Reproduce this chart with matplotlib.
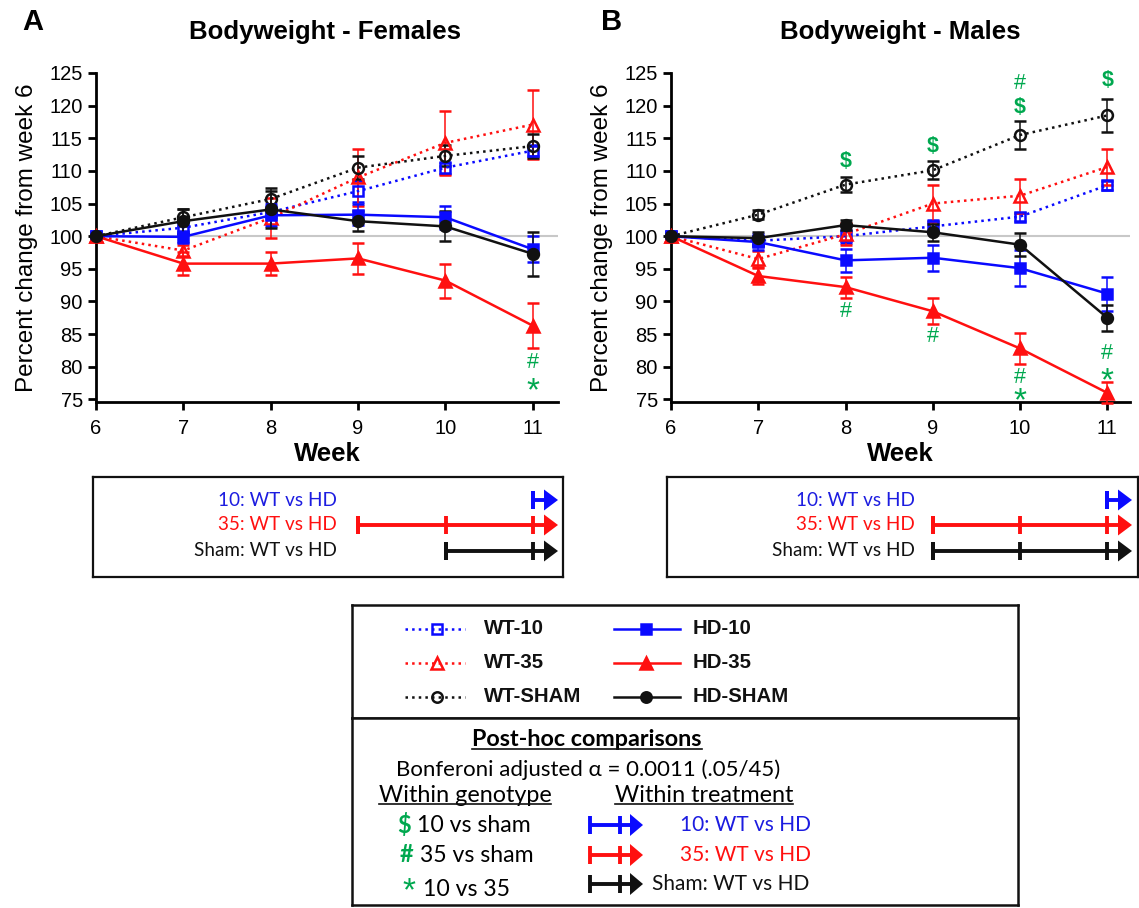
import matplotlib
matplotlib.use('Agg')
import matplotlib.pyplot as plt
from matplotlib.lines import Line2D
from matplotlib.patches import Polygon
from matplotlib.transforms import offset_copy

W, H = 1139, 908
fig = plt.figure(figsize=(W / 100, H / 100), dpi=100)

AX_FONT = 'Liberation Sans'
BOX_FONT = ['Lato', 'DejaVu Sans']

# ---------------- data ----------------
weeks = [6, 7, 8, 9, 10, 11]
groups = ['WT-10', 'HD-10', 'WT-35', 'HD-35', 'WT-SHAM', 'HD-SHAM']

# Females (mean, SEM)
fem_wt10 = [100, 101.3, 103.7, 106.9, 110.5, 113.1]
fem_wt10_err = [0, 0.9, 1.0, 1.6, 0.9, 0.8]
fem_hd10 = [100, 99.9, 103.2, 103.3, 102.9, 98.0]
fem_hd10_err = [0, 0.9, 1.7, 1.6, 1.8, 2.0]
fem_wt35 = [100, 97.8, 102.8, 109.0, 114.3, 117.1]
fem_wt35_err = [0, 0.8, 3.1, 4.3, 4.9, 5.3]
fem_hd35 = [100, 95.8, 95.8, 96.6, 93.2, 86.3]
fem_hd35_err = [0, 1.8, 1.8, 2.4, 2.6, 3.4]
fem_wtsham = [100, 102.9, 105.7, 110.5, 112.3, 113.8]
fem_wtsham_err = [0, 1.3, 1.7, 1.8, 1.6, 1.8]
fem_hdsham = [100, 102.3, 104.1, 102.3, 101.5, 97.3]
fem_hdsham_err = [0, 1.9, 2.8, 1.5, 2.3, 3.4]

# Males (mean, SEM)
male_wt10 = [100, 99.3, 100.0, 101.5, 103.0, 107.8]
male_wt10_err = [0, 0.8, 1.0, 1.0, 0.6, 0.7]
male_hd10 = [100, 99.1, 96.3, 96.7, 95.1, 91.2]
male_hd10_err = [0, 1.2, 1.8, 2.0, 2.8, 2.6]
male_wt35 = [100, 96.5, 100.3, 105.0, 106.2, 110.6]
male_wt35_err = [0, 1.2, 1.7, 2.8, 2.6, 2.7]
male_hd35 = [100, 93.9, 92.2, 88.5, 82.8, 76.0]
male_hd35_err = [0, 1.3, 1.6, 2.0, 2.4, 1.6]
male_wtsham = [100, 103.3, 107.9, 110.1, 115.5, 118.5]
male_wtsham_err = [0, 0.7, 1.2, 1.4, 2.2, 2.5]
male_hdsham = [100, 99.7, 101.7, 100.6, 98.7, 87.5]
male_hdsham_err = [0, 1.0, 0.8, 1.3, 1.8, 2.0]

# significance symbols (week, y position, symbol)
fem_sig_week = [11, 11]
fem_sig_y = [80.7, 77.8]
fem_sig_sym = ['#', '*']
male_sig_week = [8, 8, 9, 9, 10, 10, 10, 10, 11, 11, 11]
male_sig_y = [111.5, 88.5, 113.7, 84.6, 123.4, 119.7, 78.4, 76.2, 123.8, 82.1, 79.3]
male_sig_sym = ['$', '#', '$', '#', '#', '$', '#', '*', '$', '#', '*']

# within-treatment WT vs HD significance (weeks)
treat_labels = ['10: WT vs HD', '35: WT vs HD', 'Sham: WT vs HD']
fem_treat_weeks = [[11], [9, 10, 11], [10, 11]]
male_treat_weeks = [[11], [9, 10, 11], [9, 10, 11]]

yticks = [75, 80, 85, 90, 95, 100, 105, 110, 115, 120, 125]

BLUE = '#0a0aff'
RED = '#ff1010'
BLACK = '#111111'
GREEN = '#00a84f'
TBLUE = '#1c1ce0'

styles = {
    'WT-10': dict(color=BLUE, marker='s', mfc='none', ls=':'),
    'HD-10': dict(color=BLUE, marker='s', mfc=BLUE, ls='-'),
    'WT-35': dict(color=RED, marker='^', mfc='none', ls=':'),
    'HD-35': dict(color=RED, marker='^', mfc=RED, ls='-'),
    'WT-SHAM': dict(color=BLACK, marker='o', mfc='none', ls=':'),
    'HD-SHAM': dict(color=BLACK, marker='o', mfc=BLACK, ls='-'),
}
treat_colors = [TBLUE, RED, BLACK]
arrow_colors = [BLUE, RED, BLACK]


def px_axes(x0, y0, x1, y1):
    return fig.add_axes([x0 / W, 1 - y1 / H, (x1 - x0) / W, (y1 - y0) / H])


def star(ax, x, y, fs, transform=None, **kw):
    # place the asterisk so that its ink centre sits at y
    base = transform if transform is not None else ax.transData
    tr = offset_copy(base, fig=fig, y=-0.56 * fs, units='points')
    ax.text(x, y, '*', fontsize=fs, transform=tr, va='baseline', ha='center',
            family=AX_FONT, **kw)


def draw_panel(ax, series, errs, title, letter, sig_w, sig_y, sig_s, tx, lx):
    ax.axhline(100, color='#c8c8c8', lw=1.5, zorder=0)
    for g in groups:
        st = styles[g]
        ax.errorbar(weeks, series[g], yerr=errs[g], color=st['color'], marker=st['marker'],
                    mfc=st['mfc'], mec=st['color'], mew=1.8, ms=8.8 if st['marker'] == '^' else 7.8,
                    ls=st['ls'], lw=1.8, elinewidth=1.1, capsize=4, capthick=1.1,
                    clip_on=False, zorder=3 if st['ls'] == '-' else 2)
    ax.set_xlim(6, 11.29)
    ax.set_ylim(74.6, 125)
    ax.set_xticks(weeks)
    ax.set_yticks(yticks)
    for s in ['top', 'right']:
        ax.spines[s].set_visible(False)
    for s in ['left', 'bottom']:
        ax.spines[s].set_linewidth(2)
    ax.tick_params(direction='out', length=6, width=2, labelsize=14.5)
    ax.tick_params(axis='x', pad=6)
    ax.tick_params(axis='y', pad=3.5)
    for lab in ax.get_xticklabels() + ax.get_yticklabels():
        lab.set_fontfamily(AX_FONT)
    ax.set_xlabel('Week', fontsize=18.5, fontweight='bold', family=AX_FONT, labelpad=3)
    ax.set_ylabel('Percent change from week 6', fontsize=17.5, family=AX_FONT, labelpad=8)
    fig.text(tx / W, 1 - 32 / H, title, fontsize=18.5, fontweight='bold', family=AX_FONT,
             ha='center', va='center')
    fig.text(lx / W, 1 - 22 / H, letter, fontsize=21, fontweight='bold', family=AX_FONT,
             ha='center', va='center')
    for w, y, s in zip(sig_w, sig_y, sig_s):
        if s == '*':
            star(ax, w, y, 24, color=GREEN, zorder=5)
        else:
            ax.text(w, y, s, color=GREEN, fontsize=15.5,
                    fontweight='bold' if s == '$' else 'normal',
                    family=AX_FONT, ha='center', va='center', zorder=5)


def draw_arrow(ax, x_start, ticks, x_base, x_tip, y, color, lw=2.8, tick_h=9, head_h=10):
    ax.plot([x_start, x_base], [y, y], color=color, lw=lw, solid_capstyle='butt')
    for t in [x_start] + list(ticks):
        ax.plot([t, t], [y - tick_h, y + tick_h], color=color, lw=lw, solid_capstyle='butt')
    ax.add_patch(Polygon([[x_base, y - head_h], [x_base, y + head_h], [x_tip, y]],
                         closed=True, color=color, lw=0))


def draw_sig_box(px, week_px6, px_per_week, treat_weeks, text_right_px):
    x0, y0, x1, y1 = px
    bx = px_axes(x0, y0, x1, y1)
    to_w = lambda p: 6 + (p - week_px6) / px_per_week
    bx.set_xlim(to_w(x0), to_w(x1))
    bx.set_ylim(y1, y0)
    bx.set_xticks([])
    bx.set_yticks([])
    for s in bx.spines.values():
        s.set_linewidth(1.6)
        s.set_color('#111111')
    rows = [y0 + 23, y0 + 48, y0 + 74]
    w11 = week_px6 + 5 * px_per_week
    base = to_w(w11 + 11)
    tip = to_w(w11 + 25)
    for lab, tc, ac, wk, ry in zip(treat_labels, treat_colors, arrow_colors, treat_weeks, rows):
        bx.text(to_w(text_right_px), ry, lab, color=tc, fontsize=13.6, family=BOX_FONT,
                ha='right', va='center')
        draw_arrow(bx, wk[0], wk, base, tip, ry, ac, tick_h=9, head_h=10.5)


# ---------------- panels ----------------
fem_series = dict(zip(groups, [fem_wt10, fem_hd10, fem_wt35, fem_hd35, fem_wtsham, fem_hdsham]))
fem_errs = dict(zip(groups, [fem_wt10_err, fem_hd10_err, fem_wt35_err, fem_hd35_err,
                             fem_wtsham_err, fem_hdsham_err]))
male_series = dict(zip(groups, [male_wt10, male_hd10, male_wt35, male_hd35, male_wtsham, male_hdsham]))
male_errs = dict(zip(groups, [male_wt10_err, male_hd10_err, male_wt35_err, male_hd35_err,
                              male_wtsham_err, male_hdsham_err]))

axA = px_axes(96, 73, 558, 402)
draw_panel(axA, fem_series, fem_errs, 'Bodyweight - Females', 'A', fem_sig_week, fem_sig_y,
           fem_sig_sym, 325, 33)
axB = px_axes(671, 73, 1130, 402)
draw_panel(axB, male_series, male_errs, 'Bodyweight - Males', 'B', male_sig_week, male_sig_y,
           male_sig_sym, 900, 612)
axB.set_xlim(6, 11.26)

draw_sig_box((93, 477, 563, 577), 96, 87.4, fem_treat_weeks, 337)
draw_sig_box((667, 477, 1138, 577), 671, 87.2, male_treat_weeks, 915)

# ---------------- legend box ----------------
lg = px_axes(352, 605, 1018, 718)
lg.set_xlim(352, 1018)
lg.set_ylim(718, 605)
lg.set_xticks([])
lg.set_yticks([])
for s in lg.spines.values():
    s.set_linewidth(1.8)
    s.set_color('#111111')
leg_cols = [(405, 465, 437, 484), (614, 680, 646, 693)]
leg_rows = [629, 663, 697]
for i, g in enumerate(groups):
    col = leg_cols[i % 2]
    ry = leg_rows[i // 2]
    st = styles[g]
    lg.plot([col[0], col[1]], [ry, ry], color=st['color'], ls=st['ls'], lw=1.8)
    lg.plot([col[2]], [ry], color=st['color'], marker=st['marker'], mfc=st['mfc'],
            mec=st['color'], mew=1.8, ms=8.5 if st['marker'] == '^' else 7.5)
    lg.text(col[3], ry, g, fontsize=14.7, fontweight='bold', family=AX_FONT,
            ha='left', va='center', color='#111111')

# ---------------- post-hoc box ----------------
ph = px_axes(352, 718, 1018, 905)
ph.set_xlim(352, 1018)
ph.set_ylim(905, 718)
ph.set_xticks([])
ph.set_yticks([])
for s in ph.spines.values():
    s.set_linewidth(1.8)
    s.set_color('#111111')

underlined = []
t1 = ph.text(587, 740, 'Post-hoc comparisons', fontsize=16.8, fontweight='bold', family=BOX_FONT,
             ha='center', va='center')
underlined.append(t1)
ph.text(588, 770, 'Bonferoni adjusted α = 0.0011 (.05/45)', fontsize=16, family=BOX_FONT,
        ha='center', va='center')
t2 = ph.text(465, 795, 'Within genotype', fontsize=16.8, family=BOX_FONT, ha='center', va='center')
t3 = ph.text(704, 795, 'Within treatment', fontsize=16.8, family=BOX_FONT, ha='center', va='center')
underlined += [t2, t3]

geno_syms = ['$', '#', '*']
geno_texts = ['10 vs sham', '35 vs sham', '10 vs 35']
geno_rows = [825, 855, 889]
geno_sym_x = [404, 407, 409]
geno_txt_x = [417, 420, 423]
for sym, txt, ry, sx, tx in zip(geno_syms, geno_texts, geno_rows, geno_sym_x, geno_txt_x):
    if sym == '*':
        star(ph, sx, ry - 7, 24, color=GREEN)
    else:
        ph.text(sx, ry, sym, color=GREEN, fontsize=17, fontweight='bold', family=BOX_FONT,
                ha='center', va='center')
    ph.text(tx, ry, txt, fontsize=16.6, family=BOX_FONT, ha='left', va='center')

treat_rows = [825, 855, 884]
treat_lx = [680, 680, 652]
for lab, tc, ac, ry, lx in zip(treat_labels, treat_colors, arrow_colors, treat_rows, treat_lx):
    draw_arrow(ph, 590, [620], 630, 643, ry, ac, lw=2.8, tick_h=9, head_h=11)
    ph.text(lx, ry, lab, color=tc, fontsize=15, family=BOX_FONT, ha='left', va='center')

# underline helper
fig.canvas.draw()
renderer = fig.canvas.get_renderer()
inv = fig.transFigure.inverted()
for t in underlined:
    bb = t.get_window_extent(renderer)
    (xa, ya), (xb, yb) = inv.transform([[bb.x0, bb.y0], [bb.x1, bb.y1]])
    fig.add_artist(Line2D([xa, xb], [ya + 0.002, ya + 0.002], transform=fig.transFigure,
                          color='#111111', lw=1.2))

fig.savefig('out.png', dpi=100)
